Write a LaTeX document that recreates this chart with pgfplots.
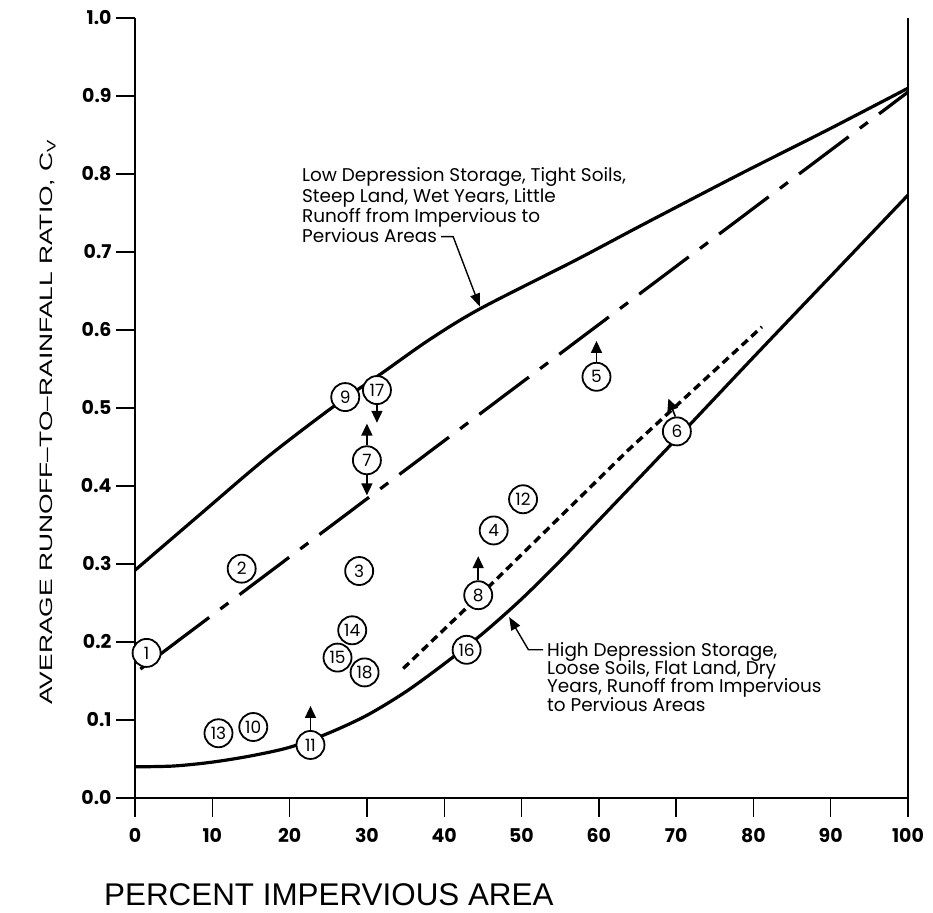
\documentclass[border=0pt]{standalone}
\usepackage{pgfplots}
\pgfplotsset{compat=1.18}
\usepackage{fontspec}
\setmainfont{Liberation Sans}
\newfontfamily\geo{Poppins}
\usetikzlibrary{arrows.meta}

% monitored sites: percent impervious, runoff ratio, site number
\pgfplotstableread{
x     y      lab
1.5   0.186  1
13.8  0.294  2
29.0  0.291  3
46.4  0.343  4
59.7  0.540  5
70.1  0.470  6
30.0  0.433  7
44.4  0.260  8
27.2  0.514  9
15.3  0.091  10
22.7  0.068  11
50.2  0.383  12
10.8  0.083  13
28.1  0.215  14
26.2  0.180  15
42.9  0.190  16
31.3  0.523  17
29.7  0.161  18
}\sites

% short arrows showing the direction of likely bias of a site value
\pgfplotstableread{
x     y      u     v
22.7  0.087  0     0.031
44.4  0.279  0     0.031
59.7  0.559  0     0.027
30.0  0.452  0     0.028
30.0  0.414  0    -0.026
31.3  0.504  0    -0.023
69.9  0.489 -0.9   0.023
}\bias

\newcommand\tickfnt{\geo\bfseries\fontsize{19}{19}\selectfont}
\newcommand\numfnt{\geo\fontsize{17}{17}\selectfont}
\newcommand\notefnt{\geo\fontsize{18.5}{18.5}\selectfont}

\begin{document}
\begin{tikzpicture}[x=1bp,y=1bp]
\path[use as bounding box] (-135,-115) rectangle (798,798);
\begin{axis}[
  at={(0,0)}, anchor=south west,
  scale only axis, width=773bp, height=780bp,
  xmin=0, xmax=100, ymin=0, ymax=1,
  separate axis lines,
  axis x line*=bottom, axis y line*=left,
  xtick={0,10,20,30,40,50,60,70,80,90,100},
  xticklabels={0,10,20,30,40,50,60,70,80,90,100},
  ytick={0,0.1,0.2,0.3,0.4,0.5,0.6,0.7,0.8,0.9,1.0},
  yticklabels={0.0,0.1,0.2,0.3,0.4,0.5,0.6,0.7,0.8,0.9,1.0},
  tick align=outside,
  major tick length=19bp,
  every tick/.style={black, line width=1.4bp},
  axis line style={line width=1.6bp},
  ticklabel style={font=\tickfnt},
  xticklabel style={yshift=-8bp},
  yticklabel style={xshift=-1bp},
  clip=false,
]
% right-hand frame edge
\draw[line width=1.6bp] (rel axis cs:1,0) -- (rel axis cs:1,1);
% upper envelope
\addplot[line width=3.2bp, smooth, tension=0.5] coordinates {
  (0,0.292)(8,0.360)(17,0.436)(25.7,0.502)(31.7,0.543)(38,0.587)
  (44.6,0.627)(57.1,0.690)(65.3,0.733)(78.3,0.800)(89.5,0.856)(100,0.910)};
% central trend
\addplot[line width=3.2bp, dash pattern=on 62bp off 14bp on 10bp off 14bp,
  dash phase=69.2bp] coordinates {(0,0.160)(100,0.905)};
% short-dashed trend
\addplot[line width=3.4bp, dash pattern=on 8bp off 5bp] coordinates {
  (34.7,0.166)(46.4,0.277)(63.8,0.446)(81.1,0.604)};
% lower envelope
\addplot[line width=3.2bp, smooth, tension=0.5] coordinates {
  (0,0.040)(5,0.041)(10,0.046)(15,0.054)(20,0.065)(25,0.083)(30,0.106)
  (35,0.136)(40,0.172)(45,0.211)(50,0.255)(55,0.304)(60,0.356)(70,0.460)
  (80,0.565)(90,0.669)(100,0.773)};
% bias arrows
\addplot[line width=1.6bp, -{Triangle[width=11bp,length=12bp]},
  quiver={u=\thisrow{u}, v=\thisrow{v}}] table {\bias};
% site circles
\addplot[only marks, mark=*, mark size=14bp,
  mark options={fill=white, draw=black, line width=1.8bp},
  nodes near coords, point meta=explicit symbolic,
  nodes near coords align=center,
  every node near coord/.append style={font=\numfnt, inner sep=0pt}]
  table[meta=lab] {\sites};

% callouts
\node[anchor=base west, font=\notefnt, inner sep=0pt] at (axis cs:21.6,0.790) {Low Depression Storage, Tight Soils,};
\node[anchor=base west, font=\notefnt, inner sep=0pt] at (axis cs:21.6,0.764) {Steep Land, Wet Years, Little};
\node[anchor=base west, font=\notefnt, inner sep=0pt] at (axis cs:21.6,0.738) {Runoff from Impervious to};
\node[anchor=base west, font=\notefnt, inner sep=0pt] (pa) at (axis cs:21.6,0.712) {Pervious Areas};
\draw[line width=1.4bp, -{Triangle[width=10bp,length=13bp]}]
  ([xshift=4bp,yshift=6bp]pa.base east) -- ++(12bp,0) -- (axis cs:44.6,0.630);

\draw[line width=1.4bp, -{Triangle[width=10bp,length=13bp]}]
  (axis cs:52.8,0.190) -- (axis cs:50.9,0.190) -- (axis cs:48.4,0.232);
\node[anchor=base west, font=\notefnt, inner sep=0pt] at (axis cs:53.3,0.182) {High Depression Storage,};
\node[anchor=base west, font=\notefnt, inner sep=0pt] at (axis cs:53.3,0.158) {Loose Soils, Flat Land, Dry};
\node[anchor=base west, font=\notefnt, inner sep=0pt] at (axis cs:53.3,0.135) {Years, Runoff from Impervious};
\node[anchor=base west, font=\notefnt, inner sep=0pt] at (axis cs:53.3,0.111) {to Pervious Areas};
\end{axis}

% axis titles
\node[rotate=90, inner sep=0pt] at (-87,376)
  {\scalebox{1.47}[1]{\fontsize{18}{18}\selectfont AVERAGE RUNOFF–TO–RAINFALL RATIO, C\textsubscript{V}}};
\node[anchor=base west, inner sep=0pt] at (-31,-107)
  {\fontsize{31.5}{31.5}\selectfont PERCENT IMPERVIOUS AREA};
\end{tikzpicture}
\end{document}
